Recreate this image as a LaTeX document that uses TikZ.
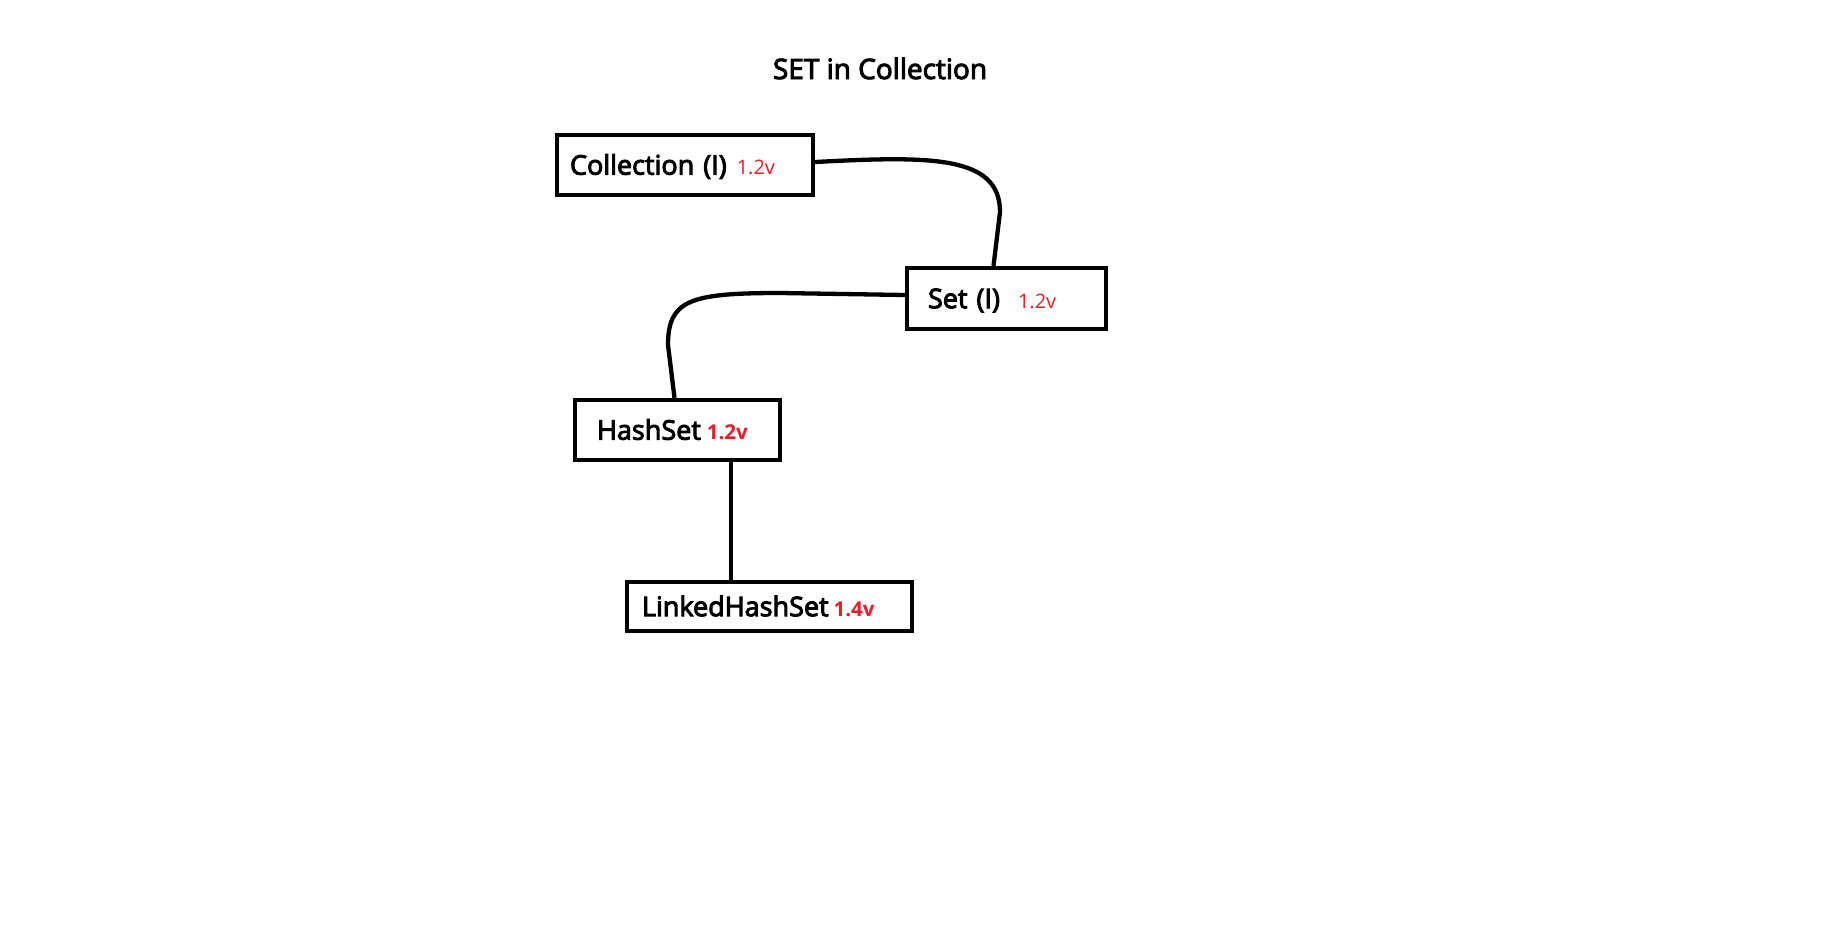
\documentclass[tikz,border=0pt]{standalone}
\usepackage{fontspec}
\setmainfont{Open Sans}
\newfontfamily\semifont{Open Sans}[FakeBold=3.5]
\definecolor{verred}{RGB}{237,28,36}
\newcommand{\vtag}[1]{{\rmfamily\color{verred}\fontsize{20}{20}\selectfont #1}}
\newcommand{\vtagb}[1]{{\rmfamily\color{verred}\bfseries\fontsize{20.5}{20.5}\selectfont #1}}
\tikzset{
  clsbox/.style={draw, rectangle, line width=4.3pt, align=left, inner ysep=0pt,
    text height=19.3pt, text depth=0pt, font=\semifont\fontsize{27}{27}\selectfont},
  link/.style={line width=4.3pt}
}
\begin{document}
\begin{tikzpicture}[x=1pt,y=-1pt]
    \useasboundingbox (0,0) rectangle (1822,934);
    \node[font=\semifont\fontsize{28}{28}\selectfont, anchor=base] (title) at (880,79) {SET in Collection};
    \node[clsbox, minimum height=60, text width=230, inner xsep=13] (coll) at (685,165) {Collection (I)\hspace{10pt}\vtag{1.2v}};
    \node[clsbox, minimum height=61, text width=157, inner xsep=21] (set) at (1006.5,298.5) {Set (I)\hspace{18pt}\vtag{1.2v}};
    \node[clsbox, minimum height=60, text width=161, inner xsep=22] (hash) at (677.5,430) {HashSet\hspace{6pt}\vtagb{1.2v}};
    \node[clsbox, minimum height=49, text width=255, inner xsep=15] (linked) at (769.5,606.5) {LinkedHashSet\hspace{5pt}\vtagb{1.4v}};
    \draw[link] ([yshift=3pt]coll.east) .. controls (930,156) and (1000,155) .. (1000,212) -- ([xshift=-13pt]set.north);
    \draw[link] ([yshift=3.5pt]set.west) -- (780,293) .. controls (690,293) and (668,300) .. (668,345) -- ([xshift=-3pt]hash.north);
    \draw[link] ([xshift=53.5pt]hash.south) -- ([xshift=53.5pt]hash.south |- linked.north);
\end{tikzpicture}
\end{document}
